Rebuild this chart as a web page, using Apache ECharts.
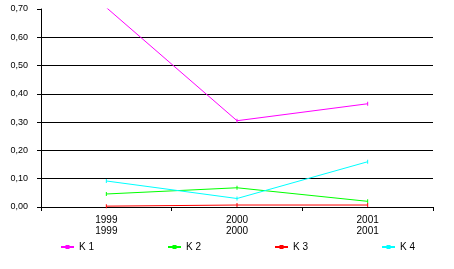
<!DOCTYPE html>
<html><head><meta charset="utf-8">
<script src="https://cdn.jsdelivr.net/npm/echarts@6/dist/echarts.min.js"></script>
<style>html,body{margin:0;padding:0;background:#fff}#c{width:454px;height:269px}</style>
</head><body><div id="c"></div>
<script>
var categories = ['1999', '2000', '2001'];
var seriesNames = ['K 1', 'K 2', 'K 3', 'K 4'];
var k1 = [0.705, 0.305, 0.365];
var k2 = [0.046, 0.068, 0.020];
var k3 = [0.003, 0.007, 0.007];
var k4 = [0.092, 0.030, 0.160];
var colors = ['#ff00ff', '#00ff00', '#ff0000', '#00ffff'];
var data = [k1, k2, k3, k4];

var chart = echarts.init(document.getElementById('c'), null, {renderer: 'canvas'});
var font = 'Arial, "Liberation Sans", sans-serif';
chart.setOption({
  animation: false,
  backgroundColor: '#fff',
  grid: {left: 41, right: 21, top: 9, bottom: 62},
  legend: {
    bottom: 12, left: 55, itemGap: 73, itemWidth: 13, itemHeight: 5,
    textStyle: {fontFamily: font, fontSize: 10, color: '#000'},
    data: seriesNames
  },
  xAxis: {
    type: 'category', data: categories, boundaryGap: true,
    axisLine: {lineStyle: {color: '#000', width: 1}},
    axisTick: {show: true, length: 4, lineStyle: {color: '#000'}},
    axisLabel: {fontFamily: font, fontSize: 10, color: '#000', lineHeight: 11, margin: 8,
      formatter: function (v) { return v + '\n' + v; }}
  },
  yAxis: {
    type: 'value', min: 0, max: 0.7, interval: 0.1,
    axisLine: {show: true, lineStyle: {color: '#000', width: 1}},
    axisTick: {show: true, length: 4, lineStyle: {color: '#000'}},
    axisLabel: {fontFamily: font, fontSize: 9, color: '#000', margin: 13,
      formatter: function (v) { return v.toFixed(2).replace('.', ','); }},
    splitLine: {show: true, lineStyle: {width: 1,
      color: ['#000', '#000', '#000', '#000', '#000', '#000', '#000', 'rgba(0,0,0,0)']}}
  },
  series: seriesNames.map(function (n, i) {
    return {
      name: n, type: 'line', data: data[i],
      symbol: 'rect', symbolSize: [1, 4], showSymbol: true,
      itemStyle: {color: colors[i]},
      lineStyle: {color: colors[i], width: 1}
    };
  })
});
</script></body></html>
